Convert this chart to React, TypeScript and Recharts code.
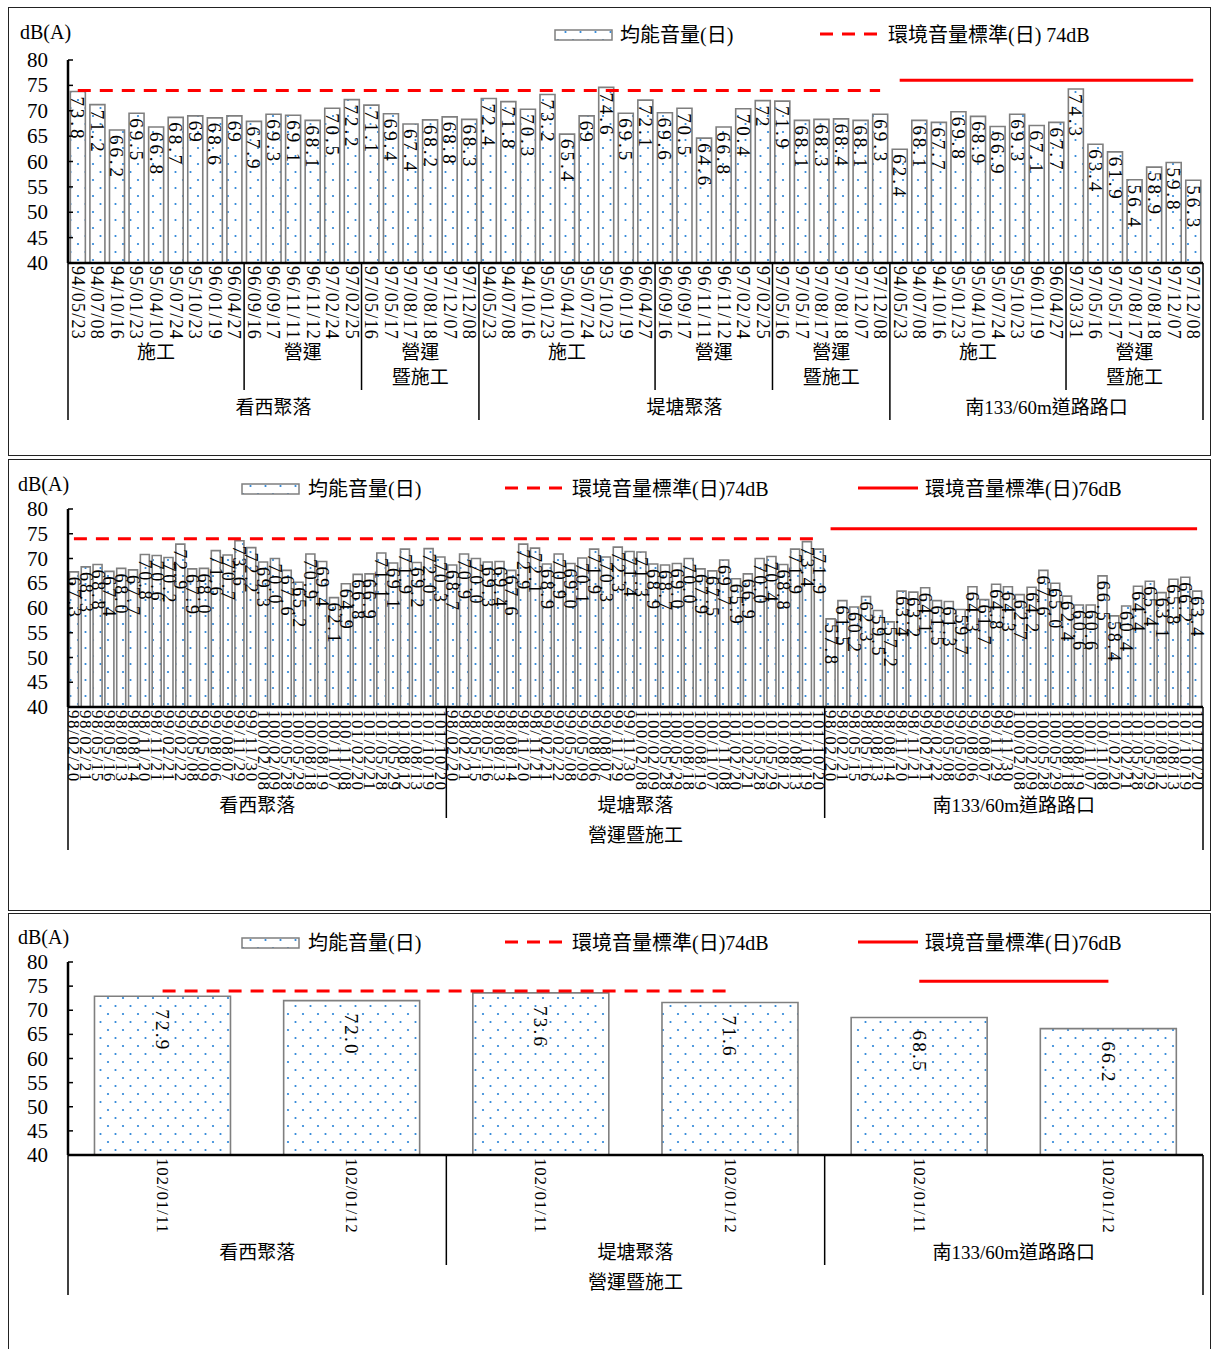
import React from 'react';
import { ComposedChart, Bar, Line, XAxis, YAxis, LabelList } from 'recharts';

const SERIF = "'Liberation Serif', 'Times New Roman', 'Noto Sans CJK TC', serif";
const PLOT_L = 68;
const PLOT_R = 1203;
const Y_TICKS = [40, 45, 50, 55, 60, 65, 70, 75, 80];

type Group = { name: string; count: number };

// ---- panel 1 data ----
const p1Dates = [
  '94/05/23', '94/07/08', '94/10/16', '95/01/23', '95/04/10', '95/07/24', '95/10/23', '96/01/19', '96/04/27',
  '96/09/16', '96/09/17', '96/11/11', '96/11/12', '97/02/24', '97/02/25',
  '97/05/16', '97/05/17', '97/08/17', '97/08/18', '97/12/07', '97/12/08',
  '94/05/23', '94/07/08', '94/10/16', '95/01/23', '95/04/10', '95/07/24', '95/10/23', '96/01/19', '96/04/27',
  '96/09/16', '96/09/17', '96/11/11', '96/11/12', '97/02/24', '97/02/25',
  '97/05/16', '97/05/17', '97/08/17', '97/08/18', '97/12/07', '97/12/08',
  '94/05/23', '94/07/08', '94/10/16', '95/01/23', '95/04/10', '95/07/24', '95/10/23', '96/01/19', '96/04/27',
  '97/03/31', '97/05/16', '97/05/17', '97/08/17', '97/08/18', '97/12/07', '97/12/08',
];
const p1Values = [
  73.8, 71.2, 66.2, 69.5, 66.8, 68.7, 69, 68.6, 69,
  67.9, 69.3, 69.1, 68.1, 70.5, 72.2,
  71.1, 69.4, 67.4, 68.2, 68.8, 68.3,
  72.4, 71.8, 70.3, 73.2, 65.4, 69, 74.6, 69.5, 72.1,
  69.6, 70.5, 64.6, 66.8, 70.4, 72,
  71.9, 68.1, 68.3, 68.4, 68.1, 69.3,
  62.4, 68.1, 67.7, 69.8, 68.9, 66.9, 69.3, 67.1, 67.7,
  74.3, 63.4, 61.9, 56.4, 58.9, 59.8, 56.3,
];
const p1Sites: Group[] = [
  { name: '看西聚落', count: 21 },
  { name: '堤塘聚落', count: 21 },
  { name: '南133/60m道路路口', count: 16 },
];
const p1Phases: Group[] = [
  { name: '施工', count: 9 }, { name: '營運', count: 6 }, { name: '營運\n暨施工', count: 6 },
  { name: '施工', count: 9 }, { name: '營運', count: 6 }, { name: '營運\n暨施工', count: 6 },
  { name: '施工', count: 9 }, { name: '營運\n暨施工', count: 7 },
];
const p1StdBySite = [74, 74, 76];

// ---- panel 2 data ----
const p2Dates = [
  '98/02/20', '98/02/21', '98/05/15', '98/05/16', '98/08/13', '98/08/14', '98/11/20', '98/11/21',
  '99/02/21', '99/02/22', '99/05/08', '99/05/09', '99/08/06', '99/08/07', '99/11/29', '99/11/30',
  '100/02/08', '100/02/09', '100/05/28', '100/05/29', '100/08/18', '100/08/19', '100/11/07', '100/11/08',
  '101/02/20', '101/02/21', '101/05/28', '101/05/29', '101/08/12', '101/08/13', '101/10/19', '101/10/20',
];
const p2Values = [
  67.3, 68.3, 68.8, 67.4, 68.0, 67.7, 70.8, 70.6, 70.2, 72.9, 67.9, 68.0, 71.6, 70.7, 73.6, 72.2,
  69.3, 70.0, 67.6, 65.2, 70.9, 69.4, 62.1, 64.9, 66.8, 66.9, 71.1, 69.1, 71.9, 69.2, 72.0, 70.3,
  68.7, 70.9, 70.0, 69.3, 69.4, 67.6, 72.9, 72.1, 68.9, 70.9, 69.0, 70.1, 71.9, 70.3, 72.3, 71.4,
  71.3, 68.9, 68.7, 69.0, 70.0, 67.9, 67.5, 69.7, 65.9, 66.9, 70.0, 70.4, 68.8, 71.9, 73.4, 71.9,
  57.8, 61.5, 60.2, 62.3, 59.5, 57.2, 63.4, 63.2, 64.1, 61.5, 61.3, 59.7, 64.3, 61.7, 64.8, 64.3,
  62.7, 64.2, 67.6, 65.0, 62.4, 60.6, 60.6, 66.5, 58.4, 60.4, 64.4, 65.4, 63.1, 65.8, 66.2, 63.4,
];
const p2Sites: Group[] = [
  { name: '看西聚落', count: 32 },
  { name: '堤塘聚落', count: 32 },
  { name: '南133/60m道路路口', count: 32 },
];
const p2StdBySite = [74, 74, 76];

// ---- panel 3 data ----
const p3Dates = ['102/01/11', '102/01/12', '102/01/11', '102/01/12', '102/01/11', '102/01/12'];
const p3Values = [72.9, 72.0, 73.6, 71.6, 68.5, 66.2];
const p3Sites: Group[] = [
  { name: '看西聚落', count: 2 },
  { name: '堤塘聚落', count: 2 },
  { name: '南133/60m道路路口', count: 2 },
];
const p3StdBySite = [74, 74, 76];

function buildRows(dates: string[], values: number[], sites: Group[], stdBySite: number[]) {
  const rows: any[] = [];
  let i = 0;
  sites.forEach((s, si) => {
    for (let k = 0; k < s.count; k++, i++) {
      const std = stdBySite[si];
      rows.push({
        date: dates[i % dates.length],
        value: values[i],
        std74: std === 74 ? 74 : null,
        std76: std === 76 ? 76 : null,
      });
    }
  });
  return rows;
}

const rows1 = buildRows(p1Dates, p1Values, p1Sites, p1StdBySite);
const rows2 = buildRows(p2Dates, p2Values, p2Sites, p2StdBySite);
const rows3 = buildRows(p3Dates, p3Values, p3Sites, p3StdBySite);

function starts(groups: Group[]) {
  let s = 0;
  return groups.map((g) => {
    const r = s;
    s += g.count;
    return r;
  });
}

interface AxisCfg {
  n: number;
  axisY: number;
  dateSize: number;
  datePitch: number;
  sites: Group[];
  siteY: number;
  siteInner: number;
  siteOuter: number;
  phases?: Group[];
  phaseY?: number;
  phaseBottom?: number;
  topLabel?: string;
  topLabelY?: number;
}

function makeCategoryTick(cfg: AxisCfg) {
  const step = (PLOT_R - PLOT_L) / cfg.n;
  const siteStarts = starts(cfg.sites);
  const phaseStarts = cfg.phases ? starts(cfg.phases) : [];
  return (props: any) => {
    const { x, payload } = props;
    const i = props.index ?? payload.index;
    const label = String(payload.value);
    const els: React.ReactNode[] = [];
    els.push(
      <text
        key="d"
        transform={`translate(${x},${cfg.axisY + 3}) rotate(90)`}
        fontSize={cfg.dateSize}
        fontFamily={SERIF}
        textLength={label.length * cfg.datePitch}
        lengthAdjust="spacing"
        dominantBaseline="central"
        fill="#000"
      >
        {label}
      </text>
    );
    const si = siteStarts.indexOf(i);
    if (si >= 0) {
      const g = cfg.sites[si];
      const left = x - step / 2;
      els.push(
        <line key="sl" x1={left} x2={left} y1={cfg.axisY} y2={si === 0 ? cfg.siteOuter : cfg.siteInner} stroke="#000" strokeWidth={1.5} />
      );
      els.push(
        <text key="st" x={x + ((g.count - 1) * step) / 2} y={cfg.siteY} textAnchor="middle" dominantBaseline="central" fontSize={19} fontFamily={SERIF} fill="#000">
          {g.name}
        </text>
      );
    }
    if (i === cfg.n - 1) {
      const right = x + step / 2;
      els.push(<line key="rl" x1={right} x2={right} y1={cfg.axisY} y2={cfg.siteOuter} stroke="#000" strokeWidth={1.5} />);
    }
    const pi = phaseStarts.indexOf(i);
    if (pi >= 0 && cfg.phases) {
      const g = cfg.phases[pi];
      const left = x - step / 2;
      if (si < 0) {
        els.push(<line key="pl" x1={left} x2={left} y1={cfg.axisY} y2={cfg.phaseBottom} stroke="#000" strokeWidth={1.5} />);
      }
      g.name.split('\n').forEach((ln, k) => {
        els.push(
          <text key={`pt${k}`} x={x + ((g.count - 1) * step) / 2} y={(cfg.phaseY || 0) + k * 25} textAnchor="middle" dominantBaseline="central" fontSize={19} fontFamily={SERIF} fill="#000">
            {ln}
          </text>
        );
      });
    }
    if (i === 0 && cfg.topLabel) {
      els.push(
        <text key="tl" x={(PLOT_L + PLOT_R) / 2} y={cfg.topLabelY} textAnchor="middle" dominantBaseline="central" fontSize={19} fontFamily={SERIF} fill="#000">
          {cfg.topLabel}
        </text>
      );
    }
    return <g>{els}</g>;
  };
}

const YTick = (props: any) => (
  <g>
    <text x={48} y={props.y} textAnchor="end" dominantBaseline="central" fontSize={21} fontFamily={SERIF} fill="#000">
      {props.payload.value}
    </text>
    <line x1={PLOT_L} x2={PLOT_L + 5} y1={props.y} y2={props.y} stroke="#000" strokeWidth={1.5} />
  </g>
);

const makeValueLabel = (size: number, pitch: number, fixed: boolean, offset: number) => (props: any) => {
  const { x, y, width, value } = props;
  if (value == null) return null;
  const s = fixed ? Number(value).toFixed(1) : String(value);
  return (
    <text
      transform={`translate(${Number(x) + Number(width) / 2},${Number(y) + offset}) rotate(90)`}
      fontSize={size}
      fontFamily={SERIF}
      textLength={s.length * pitch}
      lengthAdjust="spacing"
      dominantBaseline="central"
      fill="#000"
    >
      {s}
    </text>
  );
};

function DotPattern({ id }: { id: string }) {
  return (
    <pattern id={id} patternUnits="userSpaceOnUse" width={15} height={16}>
      <rect width={15} height={16} fill="#fff" />
      <circle cx={3} cy={4} r={1.1} fill="#2a84d8" />
      <circle cx={10.5} cy={12} r={1.1} fill="#2a84d8" />
    </pattern>
  );
}

interface PanelProps {
  id: string;
  top: number;
  height: number;
  plotTop: number;
  plotBottom: number;
  rows: any[];
  cfg: AxisCfg;
  gap: string;
  labelSize: number;
  labelPitch: number;
  labelOffset: number;
  fixed: boolean;
}

function Panel({ id, top, height, plotTop, plotBottom, rows, cfg, gap, labelSize, labelPitch, labelOffset, fixed }: PanelProps) {
  return (
    <div style={{ position: 'absolute', left: 0, top, width: 1213, height }}>
      <ComposedChart
        width={1213}
        height={height}
        data={rows}
        margin={{ top: plotTop, right: 10, bottom: 0, left: 28 }}
        barCategoryGap={gap}
      >
        <defs>
          <DotPattern id={`dots-${id}`} />
        </defs>
        <XAxis
          dataKey="date"
          interval={0}
          tick={makeCategoryTick(cfg)}
          tickLine={false}
          axisLine={{ stroke: '#000', strokeWidth: 2.5 }}
          height={height - plotBottom}
        />
        <XAxis xAxisId="top" orientation="top" dataKey="date" tick={false} tickLine={false} height={0} axisLine={{ stroke: '#8c8c8c', strokeWidth: 1.5 }} />
        <YAxis domain={[40, 80]} ticks={Y_TICKS} tick={<YTick />} tickLine={false} axisLine={{ stroke: '#000', strokeWidth: 2.5 }} width={40} />
        <YAxis yAxisId="right" orientation="right" domain={[40, 80]} tick={false} tickLine={false} width={0} axisLine={{ stroke: '#8c8c8c', strokeWidth: 1.5 }} />
        <Bar dataKey="value" fill={`url(#dots-${id})`} stroke="#7f7f7f" strokeWidth={1.6} isAnimationActive={false}>
          <LabelList dataKey="value" content={makeValueLabel(labelSize, labelPitch, fixed, labelOffset)} />
        </Bar>
        <Line dataKey="std74" stroke="#ff0000" strokeWidth={3} strokeDasharray="13 9" dot={false} isAnimationActive={false} />
        <Line dataKey="std76" stroke="#ff0000" strokeWidth={3} dot={false} isAnimationActive={false} />
      </ComposedChart>
    </div>
  );
}

interface LegendItem {
  kind: 'bar' | 'dash' | 'solid';
  x: number;
  textX: number;
  label: string;
}

function LegendRow({ top, items, id }: { top: number; items: LegendItem[]; id: string }) {
  return (
    <svg style={{ position: 'absolute', left: 0, top: top - 15 }} width={1213} height={30}>
      <defs>
        <DotPattern id={`ldots-${id}`} />
      </defs>
      {items.map((it, k) => (
        <g key={k}>
          {it.kind === 'bar' && <rect x={it.x} y={10} width={57} height={10} fill={`url(#ldots-${id})`} stroke="#7f7f7f" strokeWidth={1.5} />}
          {it.kind === 'dash' && <line x1={it.x} x2={it.x + 60} y1={14} y2={14} stroke="#ff0000" strokeWidth={3} strokeDasharray="13 9" />}
          {it.kind === 'solid' && <line x1={it.x} x2={it.x + 60} y1={14} y2={14} stroke="#ff0000" strokeWidth={3} />}
          <text x={it.textX} y={15} dominantBaseline="central" fontSize={20} fontFamily={SERIF} fill="#000">
            {it.label}
          </text>
        </g>
      ))}
    </svg>
  );
}

const cfg1: AxisCfg = {
  n: rows1.length, axisY: 263, dateSize: 18, datePitch: 9.1,
  sites: p1Sites, siteY: 407, siteInner: 420, siteOuter: 420,
  phases: p1Phases, phaseY: 352, phaseBottom: 390,
};
const cfg2: AxisCfg = {
  n: rows2.length, axisY: 247, dateSize: 17, datePitch: 8.9,
  sites: p2Sites, siteY: 345, siteInner: 358, siteOuter: 390,
  topLabel: '營運暨施工', topLabelY: 375,
};
const cfg3: AxisCfg = {
  n: rows3.length, axisY: 241, dateSize: 17, datePitch: 8.3,
  sites: p3Sites, siteY: 338, siteInner: 351, siteOuter: 381,
  topLabel: '營運暨施工', topLabelY: 368,
};

const boxStyle = (top: number, height: number): React.CSSProperties => ({
  position: 'absolute', left: 8, top, width: 1203, height, border: '1.5px solid #222', boxSizing: 'border-box',
});

const unitStyle = (left: number, top: number): React.CSSProperties => ({
  position: 'absolute', left, top, fontSize: 20, fontFamily: SERIF, lineHeight: '24px', color: '#000',
});

export default function App() {
  return (
    <div style={{ position: 'absolute', left: 0, top: 0, width: 1213, height: 1349, background: '#fff', overflow: 'hidden' }}>
      <div style={boxStyle(7, 449)} />
      <div style={boxStyle(459, 452)} />
      <div style={boxStyle(913, 450)} />

      <Panel id="p1" top={0} height={430} plotTop={60} plotBottom={263} rows={rows1} cfg={cfg1} gap="12%" labelSize={19} labelPitch={10.5} labelOffset={5} fixed={false} />
      <Panel id="p2" top={460} height={395} plotTop={49} plotBottom={247} rows={rows2} cfg={cfg2} gap="12%" labelSize={18} labelPitch={10} labelOffset={5} fixed={true} />
      <Panel id="p3" top={914} height={386} plotTop={48} plotBottom={241} rows={rows3} cfg={cfg3} gap="14%" labelSize={19} labelPitch={10} labelOffset={13} fixed={true} />

      <div style={unitStyle(20, 20)}>dB(A)</div>
      <div style={unitStyle(18, 472)}>dB(A)</div>
      <div style={unitStyle(18, 925)}>dB(A)</div>

      <LegendRow
        id="l1"
        top={35}
        items={[
          { kind: 'bar', x: 555, textX: 620, label: '均能音量(日)' },
          { kind: 'dash', x: 820, textX: 888, label: '環境音量標準(日) 74dB' },
        ]}
      />
      <LegendRow
        id="l2"
        top={489}
        items={[
          { kind: 'bar', x: 242, textX: 308, label: '均能音量(日)' },
          { kind: 'dash', x: 505, textX: 572, label: '環境音量標準(日)74dB' },
          { kind: 'solid', x: 858, textX: 925, label: '環境音量標準(日)76dB' },
        ]}
      />
      <LegendRow
        id="l3"
        top={943}
        items={[
          { kind: 'bar', x: 242, textX: 308, label: '均能音量(日)' },
          { kind: 'dash', x: 505, textX: 572, label: '環境音量標準(日)74dB' },
          { kind: 'solid', x: 858, textX: 925, label: '環境音量標準(日)76dB' },
        ]}
      />
    </div>
  );
}
